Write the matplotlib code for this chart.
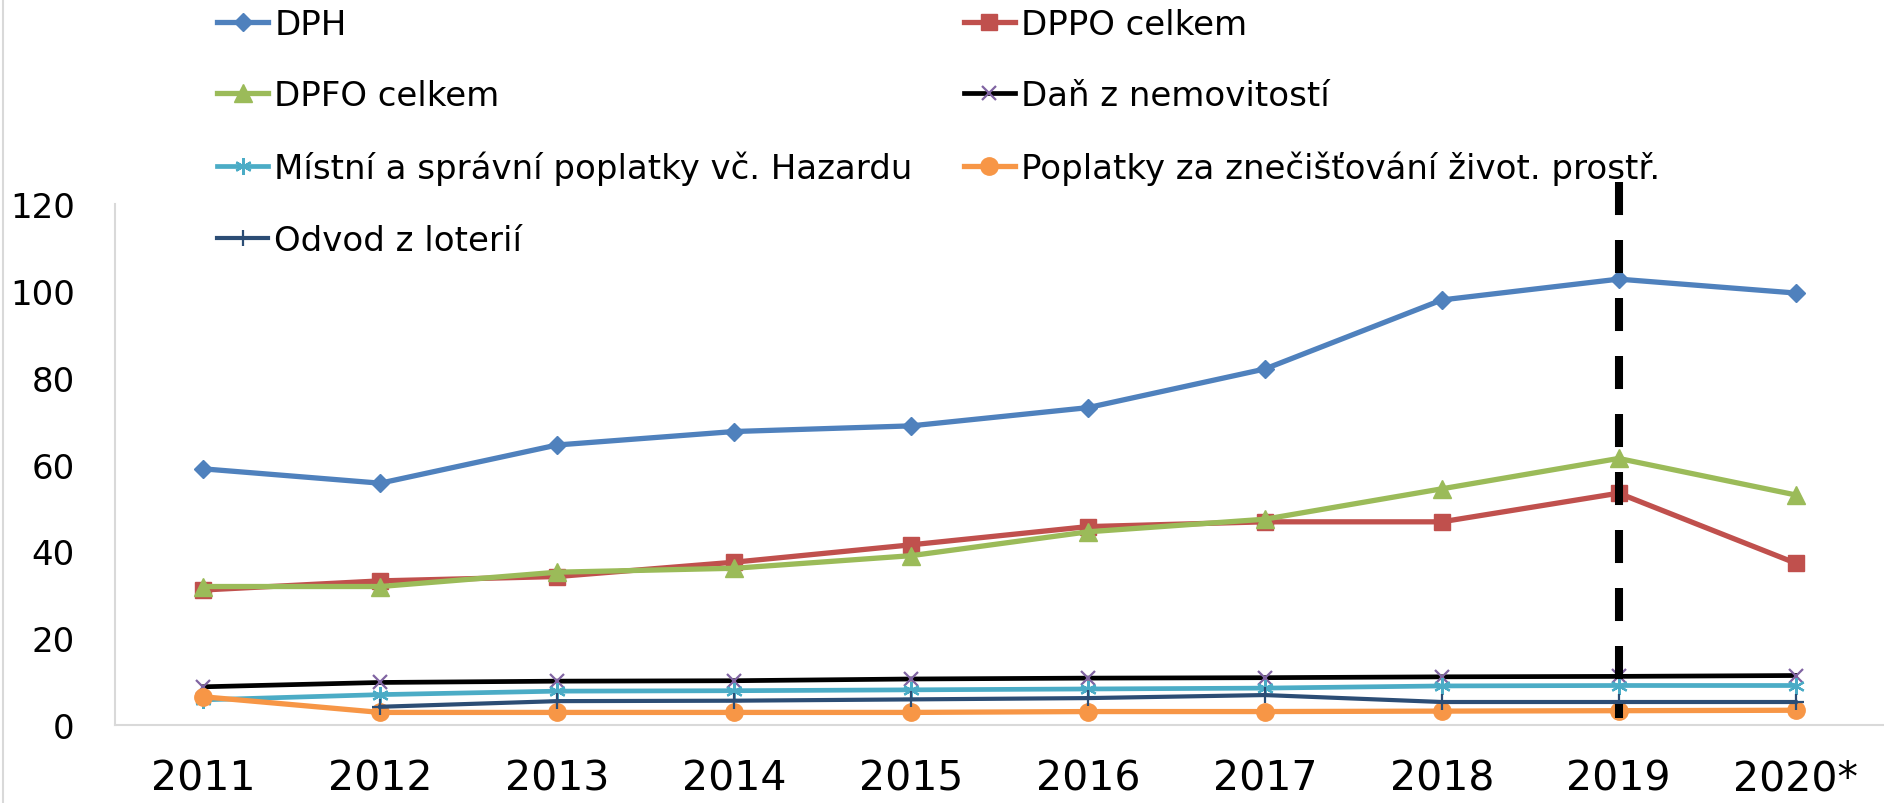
import matplotlib
matplotlib.use('Agg')
import matplotlib.pyplot as plt
from matplotlib.lines import Line2D

plt.rcParams['font.family'] = ['DejaVu Sans']

years = ['2011', '2012', '2013', '2014', '2015', '2016', '2017', '2018', '2019', '2020*']

dph = [59.0, 55.7, 64.5, 67.6, 68.9, 73.1, 82.0, 97.9, 102.7, 99.5]
dppo = [31.1, 33.2, 34.2, 37.5, 41.5, 45.7, 46.8, 46.8, 53.4, 37.3]
dpfo = [31.9, 31.9, 35.2, 36.1, 39.0, 44.5, 47.4, 54.4, 61.4, 53.0]
dan_nemov = [8.8, 9.8, 10.1, 10.2, 10.6, 10.8, 10.9, 11.1, 11.2, 11.4]
mistni = [5.8, 7.0, 7.8, 7.9, 8.1, 8.3, 8.5, 9.0, 9.1, 9.1]
poplatky_zp = [6.5, 2.9, 2.9, 2.9, 2.9, 3.1, 3.1, 3.2, 3.3, 3.4]
odvod = [None, 4.2, 5.5, 5.6, 5.9, 6.2, 6.9, 5.3, 5.3, 5.3]

split_year = 8  # 2019
split_range = [125, 1.6]  # drawn from the top down

x = list(range(len(years)))

fig = plt.figure(figsize=(18.84, 8.04), dpi=100)
ax = fig.add_axes([0.061, 0.097, 0.939, 0.648])

h_dph, = ax.plot(x, dph, color='#4F81BD', lw=3.8, marker='D', ms=9.2, label='DPH')
h_dppo, = ax.plot(x, dppo, color='#C0504D', lw=3.8, marker='s', ms=11.5, label='DPPO celkem')
h_dpfo, = ax.plot(x, dpfo, color='#9BBB59', lw=3.8, marker='^', ms=12.5, label='DPFO celkem')
h_dan, = ax.plot(x, dan_nemov, color='black', lw=3.4, marker='x', ms=10,
                 mec='#8064A2', mew=1.6, label='Daň z nemovitostí')
h_mis, = ax.plot(x, mistni, color='#4BACC6', lw=3.4, marker=(6, 2, 0), ms=12,
                 mec='#4BACC6', mew=1.6, label='Místní a správní poplatky vč. Hazardu')
h_zp, = ax.plot(x, poplatky_zp, color='#F79646', lw=3.8, marker='o', ms=12.5,
                label='Poplatky za znečišťování život. prostř.')
odvod_x = [xi for xi, v in zip(x, odvod) if v is not None]
odvod_y = [v for v in odvod if v is not None]
h_odv, = ax.plot(odvod_x, odvod_y, color='#2C4D75', lw=3.0, marker='+', ms=11,
                 mew=1.6, label='Odvod z loterií')

ax.plot([split_year, split_year], split_range, color='black', lw=5.8,
        dashes=(4.1, 3.1), clip_on=False, zorder=5)

ax.set_xlim(-0.5, len(years) - 0.5)
ax.set_ylim(0, 120)
ax.set_yticks(range(0, 121, 20))
ax.set_xticks(x)
ax.set_xticklabels(years)
ax.tick_params(axis='y', length=0, pad=29, labelsize=24.5)
ax.tick_params(axis='x', length=0, pad=24, labelsize=29.5)
for s in ['top', 'right']:
    ax.spines[s].set_visible(False)
for s in ['left', 'bottom']:
    ax.spines[s].set_color('#D9D9D9')
    ax.spines[s].set_linewidth(1.5)

handles = [h_dph, h_dpfo, h_mis, h_odv, h_dppo, h_dan, h_zp]
fig.legend(handles=handles, labels=[h.get_label() for h in handles],
           loc='upper left', bbox_to_anchor=(0.1152, 0.989), ncol=2,
           frameon=False, fontsize=24.5, borderpad=0, borderaxespad=0,
           handlelength=1.5, handletextpad=0.18, columnspacing=1.5,
           labelspacing=1.13)

fig.add_artist(Line2D([0.0015, 0.0015], [0, 1], transform=fig.transFigure,
                      color='#D9D9D9', lw=1.5))

fig.savefig('out.png', dpi=100)
